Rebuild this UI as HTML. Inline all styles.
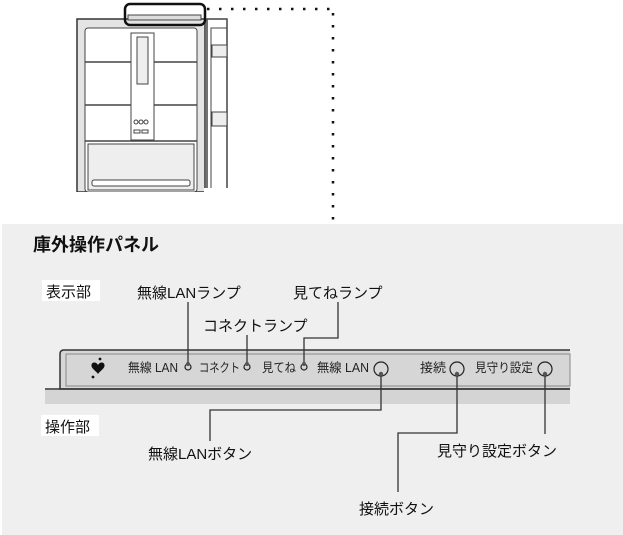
<!DOCTYPE html>
<html><head><meta charset="utf-8"><style>
html,body{margin:0;padding:0;background:#fff;}
svg{display:block;font-family:"Liberation Sans","Noto Sans CJK JP",sans-serif;}
</style></head><body>
<svg width="623" height="535" viewBox="0 0 623 535" xmlns="http://www.w3.org/2000/svg">
<rect x="0" y="0" width="623" height="535" fill="#fff"/>
<!-- fridge -->
<g stroke="#444" fill="none" stroke-width="1">
<rect x="77" y="19" width="128" height="173" fill="#e4e4e4" stroke="#333" stroke-width="1.5"/>
<rect x="85" y="28" width="112" height="164" fill="#fff" rx="3"/>
<line x1="85" y1="62" x2="197" y2="62" stroke-width="1.5"/>
<line x1="85" y1="105" x2="197" y2="105" stroke-width="1.5"/>
<rect x="131" y="33" width="23" height="107" fill="#fff"/>
<rect x="137" y="37" width="11" height="47" fill="#eee"/>
<circle cx="136" cy="122" r="2"/><circle cx="141" cy="122" r="2"/><circle cx="146" cy="122" r="2"/>
<rect x="134" y="130" width="6" height="3"/><rect x="142" y="130" width="6" height="3"/>
<line x1="85" y1="141" x2="197" y2="141" stroke-width="1.5"/>
<rect x="88" y="144" width="106" height="46" fill="#eee"/>
<rect x="92" y="180" width="98" height="6" rx="2" fill="#fff"/>
<rect x="207" y="19" width="20" height="173" fill="#fff" stroke-width="1.5"/>
<rect x="211" y="28" width="16" height="164"/>
<rect x="212" y="45" width="15" height="12" fill="#eee"/>
<rect x="212" y="112" width="15" height="14" fill="#eee"/>
<rect x="128" y="15" width="73" height="5" fill="#ddd"/>
<rect x="125" y="4" width="80" height="21" rx="5" stroke="#111" stroke-width="2.5"/>
</g>
<rect x="204" y="188" width="24" height="6" fill="#fff"/>
<rect x="75" y="192" width="156" height="28" fill="#fff"/>
<!-- dotted -->
<line x1="207" y1="9" x2="333" y2="9" stroke="#111" stroke-width="2.5" stroke-dasharray="2.5 9.5"/>
<line x1="333" y1="13" x2="333" y2="222" stroke="#111" stroke-width="2.5" stroke-dasharray="2.5 9.5"/>
<!-- gray area -->
<rect x="2" y="224" width="621" height="311" fill="#efefef"/>
<text x="33" y="251" font-size="18" font-weight="bold" fill="#111">庫外操作パネル</text>
<rect x="42" y="280" width="58" height="21" fill="#fff"/>
<text x="46" y="297" font-size="15" fill="#111">表示部</text>
<rect x="41" y="415" width="58" height="21" fill="#fff"/>
<text x="45" y="432" font-size="15" fill="#111">操作部</text>
<!-- panel -->
<rect x="45" y="390" width="525" height="14" fill="#d4d4d4"/>
<path d="M570 350 H64 Q60 350 60 354 V389 H570" fill="#d6d6d6" stroke="#333" stroke-width="1.5"/>
<line x1="45" y1="389" x2="570" y2="389" stroke="#333" stroke-width="1.5"/>
<rect x="66" y="354" width="504" height="32" fill="#d6d6d6" stroke="#888" stroke-width="1"/>
<path d="M98 365 C96 361 91 362 91.5 366 C92 369 96 371 98 374 C100 371 104 369 104.5 366 C105 362 100 361 98 365 Z" fill="#111"/>
<circle cx="100" cy="359" r="1.4" fill="#111"/><circle cx="93" cy="377" r="1.4" fill="#111"/>
<g font-size="12.5" fill="#222">
<text x="128" y="372" textLength="50" lengthAdjust="spacingAndGlyphs">無線 LAN</text>
<text x="199" y="372" textLength="41" lengthAdjust="spacingAndGlyphs">コネクト</text>
<text x="262" y="372" textLength="34" lengthAdjust="spacingAndGlyphs">見てね</text>
<text x="317" y="372" textLength="52" lengthAdjust="spacingAndGlyphs">無線 LAN</text>
<text x="420" y="372" textLength="26" lengthAdjust="spacingAndGlyphs">接続</text>
<text x="475" y="372" textLength="58" lengthAdjust="spacingAndGlyphs">見守り設定</text>
</g>
<g fill="none" stroke="#222" stroke-width="1.2">
<circle cx="188" cy="367" r="3"/><circle cx="247" cy="367" r="3"/><circle cx="304" cy="367" r="3"/>
<circle cx="381" cy="369" r="7"/><circle cx="457" cy="369" r="7"/><circle cx="545" cy="369" r="7"/>
</g>
<!-- leader lines -->
<g fill="none" stroke="#333" stroke-width="1.3">
<polyline points="188,302 188,364"/>
<polyline points="247,335 247,364"/>
<polyline points="338,302 338,338 304,338 304,364"/>
<polyline points="381,374 381,410 210,410 210,441"/>
<polyline points="457,374 457,433 398,433 398,492"/>
<polyline points="545,374 545,434"/>
</g>
<g fill="#555"><circle cx="188" cy="364" r="2"/><circle cx="247" cy="364" r="2"/><circle cx="304" cy="364" r="2"/>
<circle cx="381" cy="374" r="2.2"/><circle cx="457" cy="374" r="2.2"/><circle cx="545" cy="374" r="2.2"/></g>
<g font-size="15" fill="#111">
<text x="137" y="298">無線LANランプ</text>
<text x="293" y="298">見てねランプ</text>
<text x="203" y="331">コネクトランプ</text>
<text x="148" y="459">無線LANボタン</text>
<text x="437" y="456">見守り設定ボタン</text>
<text x="359" y="514">接続ボタン</text>
</g>
</svg>
</body></html>
